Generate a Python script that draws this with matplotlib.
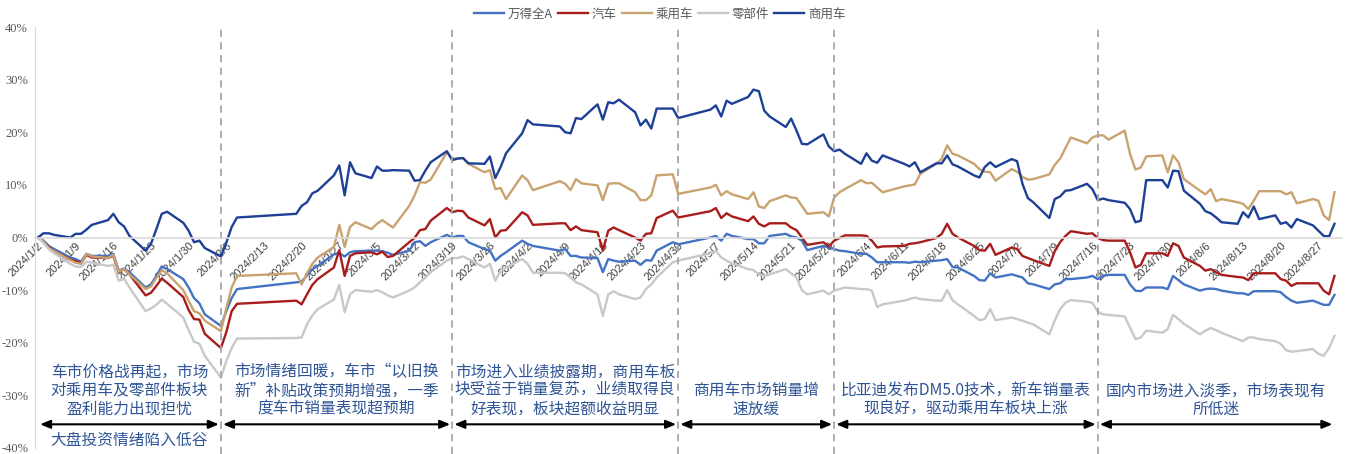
import matplotlib
matplotlib.use('Agg')
import matplotlib.pyplot as plt
import matplotlib.dates as mdates
from matplotlib.ticker import FuncFormatter
import pandas as pd

plt.rcParams['font.family'] = ['Noto Sans CJK SC', 'DejaVu Sans']

# trading days, 2024
days = (['1/2', '1/3', '1/4', '1/5', '1/8', '1/9', '1/10', '1/11', '1/12', '1/15', '1/16',
         '1/17', '1/18', '1/19', '1/22', '1/23', '1/24', '1/25', '1/26', '1/29', '1/30', '1/31']
        + ['2/1', '2/2', '2/5', '2/6', '2/7', '2/8', '2/19', '2/20', '2/21', '2/22', '2/23',
           '2/26', '2/27', '2/28', '2/29']
        + ['3/1', '3/4', '3/5', '3/6', '3/7', '3/8', '3/11', '3/12', '3/13', '3/14', '3/15',
           '3/18', '3/19', '3/20', '3/21', '3/22', '3/25', '3/26', '3/27', '3/28', '3/29']
        + ['4/1', '4/2', '4/3', '4/8', '4/9', '4/10', '4/11', '4/12', '4/15', '4/16', '4/17',
           '4/18', '4/19', '4/22', '4/23', '4/24', '4/25', '4/26', '4/29', '4/30']
        + ['5/6', '5/7', '5/8', '5/9', '5/10', '5/13', '5/14', '5/15', '5/16', '5/17', '5/20',
           '5/21', '5/22', '5/23', '5/24', '5/27', '5/28', '5/29', '5/30', '5/31']
        + ['6/3', '6/4', '6/5', '6/6', '6/7', '6/11', '6/12', '6/13', '6/14', '6/17', '6/18',
           '6/19', '6/20', '6/21', '6/24', '6/25', '6/26', '6/27', '6/28']
        + ['7/1', '7/2', '7/3', '7/4', '7/5', '7/8', '7/9', '7/10', '7/11', '7/12', '7/15',
           '7/16', '7/17', '7/18', '7/19', '7/22', '7/23', '7/24', '7/25', '7/26', '7/29',
           '7/30', '7/31']
        + ['8/1', '8/2', '8/5', '8/6', '8/7', '8/8', '8/9', '8/12', '8/13', '8/14', '8/15',
           '8/16', '8/19', '8/20', '8/21', '8/22', '8/23', '8/26', '8/27', '8/28', '8/29', '8/30'])

# cumulative return, %
wind_a = ([0, -0.6, -1.6, -2.2, -3.8, -4.1, -4.6, -3.1, -3.5, -3.5, -3.1, -6.3, -5.9, -6.6, -9.5, -8.9, -7.3, -5.5, -6.0, -7.9, -9.5, -11.5]
          + [-12.5, -14.6, -16.8, -14.0, -11.5, -9.8, -8.5, -8.4, -7.2, -6.0, -5.4, -3.2, -3.0, -3.6, -2.8]
          + [-2.6, -2.5, -2.5, -2.6, -2.9, -3.3, -2.5, -0.9, -0.7, -1.6, -0.9, 0.5, 0.0, 0.3, 0.3, -0.9, -2.2, -2.5, -4.4, -3.5, -2.8]
          + [-0.6, -1.2, -1.6, -2.5, -2.2, -3.5, -3.5, -3.8, -3.9, -6.6, -4.1, -4.4, -4.6, -4.4, -5.2, -4.3, -4.4, -2.5, -0.9, -1.3]
          + [0.0, 0.3, -0.6, 0.7, 0.3, -0.3, -0.3, -1.1, -1.1, 0.3, 0.7, 0.2, 0.0, -0.6, -2.4, -1.6, -1.9, -2.2, -2.5, -2.6]
          + [-3.1, -3.1, -3.8, -4.7, -4.7, -4.7, -4.8, -4.6, -4.7, -4.4, -4.3, -4.1, -5.6, -5.7, -7.3, -8.1, -8.2, -6.8, -7.6]
          + [-7.0, -7.3, -7.6, -8.7, -8.9, -9.8, -8.9, -8.7, -7.9, -7.9, -7.6, -7.3, -7.9, -7.3, -7.1, -7.1, -8.9, -10.1, -10.2, -9.5, -9.5, -9.8, -7.3]
          + [-8.1, -8.9, -10.1, -9.8, -9.7, -9.8, -10.1, -10.6, -10.6, -10.9, -10.2, -10.2, -10.2, -10.4, -11.3, -12.0, -12.4, -12.0, -12.4, -12.8, -12.8, -10.9])

auto = ([0, -0.8, -1.8, -2.6, -4.2, -4.5, -4.9, -3.3, -3.8, -3.9, -3.5, -6.6, -6.0, -7.0, -11.0, -10.5, -9.2, -7.8, -8.6, -11.3, -13.8, -15.5]
        + [-15.6, -18.3, -21.0, -18.0, -14.0, -12.6, -12.0, -12.7, -10.8, -9.0, -7.9, -5.7, -2.4, -7.3, -3.5]
        + [-3.0, -2.8, -3.2, -2.7, -3.7, -3.5, -0.9, -0.1, 1.4, 1.6, 3.2, 5.6, 4.8, 5.1, 5.0, 3.8, 2.3, 3.5, 0.0, 1.3, 1.4]
        + [4.8, 4.2, 2.4, 2.7, 2.7, 1.4, 2.1, 1.4, 1.0, -2.5, 1.3, 1.9, 1.4, 0.0, -0.6, 0.7, 0.8, 3.7, 5.1, 3.8]
        + [5.0, 5.6, 3.7, 4.6, 4.0, 3.1, 4.0, 2.6, 2.1, 2.7, 2.7, 1.9, 1.4, 0.0, -1.4, -0.9, -1.7, -0.6, -0.1, 0.4]
        + [0.4, 0.3, -0.6, -1.9, -1.7, -1.6, -1.2, -1.1, -0.9, -0.1, 0.7, 2.6, 0.7, 0.0, -1.6, -2.4, -2.5, -1.2, -3.3]
        + [-1.9, -2.2, -3.5, -3.9, -4.3, -5.4, -2.6, -0.9, 0.3, 1.2, 0.7, 0.8, -0.1, -0.5, -0.6, -0.6, -2.8, -5.7, -5.2, -3.0, -3.0, -3.5, -1.1]
        + [-1.6, -3.8, -5.4, -6.3, -6.0, -6.6, -7.1, -7.5, -7.6, -8.1, -6.8, -6.8, -6.8, -7.9, -8.2, -9.2, -8.7, -8.7, -8.7, -10.1, -10.8, -7.3])

passenger = ([0, -0.8, -2.0, -2.6, -4.3, -4.8, -5.0, -3.1, -3.6, -3.9, -3.3, -6.5, -6.0, -7.0, -9.8, -9.3, -7.7, -6.2, -6.8, -10.0, -12.0, -14.0]
             + [-14.4, -15.8, -17.8, -13.5, -9.5, -7.3, -6.8, -8.9, -6.8, -5.0, -3.8, -1.8, 2.4, -1.8, 2.0]
             + [2.9, 1.6, 2.6, 3.3, 2.6, 1.9, 6.0, 8.0, 10.5, 10.4, 11.0, 16.2, 15.0, 15.0, 15.1, 14.0, 12.4, 12.8, 9.2, 9.4, 7.3]
             + [11.8, 10.9, 9.0, 10.7, 10.2, 9.0, 11.1, 10.3, 9.9, 7.1, 10.2, 10.3, 10.3, 8.6, 7.1, 7.1, 8.0, 11.8, 12.0, 8.3]
             + [9.5, 10.0, 8.0, 8.8, 8.2, 7.3, 8.6, 5.9, 5.6, 6.9, 8.0, 7.6, 7.5, 6.0, 4.5, 4.8, 4.0, 7.6, 8.6, 9.2]
             + [10.9, 10.3, 10.4, 9.5, 8.6, 9.7, 9.9, 10.1, 12.1, 14.0, 15.0, 17.5, 15.9, 15.6, 14.0, 13.0, 12.5, 12.4, 10.8]
             + [13.0, 12.5, 11.5, 11.0, 11.1, 12.0, 13.8, 15.0, 17.0, 19.0, 17.9, 19.0, 19.4, 19.4, 18.6, 20.3, 15.9, 12.9, 13.3, 15.4, 15.6, 12.4, 15.6]
             + [14.3, 11.1, 8.9, 8.2, 9.2, 6.9, 7.3, 6.7, 6.4, 5.4, 7.0, 8.8, 8.8, 8.8, 8.2, 8.6, 6.5, 7.3, 7.0, 4.2, 3.3, 8.6])

parts = ([0, -1.0, -2.2, -3.0, -5.0, -5.5, -5.6, -4.6, -4.8, -5.4, -5.2, -8.2, -7.8, -9.5, -14.0, -13.5, -12.8, -11.8, -12.6, -15.2, -17.6, -19.8]
         + [-20.2, -22.5, -26.6, -23.5, -21.0, -19.2, -19.1, -19.0, -16.5, -14.8, -13.6, -11.8, -9.0, -14.2, -10.8]
         + [-10.0, -10.3, -10.0, -10.4, -11.0, -11.4, -10.1, -9.5, -8.5, -7.6, -6.6, -4.4, -3.9, -3.9, -3.6, -4.1, -5.7, -5.0, -8.2, -6.3, -5.7]
         + [-4.1, -5.0, -6.7, -6.7, -6.8, -7.6, -8.5, -8.9, -10.8, -14.9, -10.8, -10.2, -10.8, -11.7, -11.4, -9.8, -8.9, -7.6, -4.7, -4.4]
         + [-3.0, -2.5, -3.8, -4.4, -4.9, -6.0, -6.2, -7.0, -7.3, -7.0, -6.0, -6.8, -7.6, -10.0, -10.8, -10.1, -10.8, -10.1, -9.8, -9.5]
         + [-9.8, -9.8, -10.1, -13.2, -12.7, -12.0, -11.7, -11.4, -11.7, -12.0, -12.0, -10.0, -11.9, -12.7, -14.9, -15.7, -15.5, -13.6, -15.7]
         + [-15.2, -15.5, -15.8, -16.2, -16.5, -18.4, -15.8, -13.6, -12.4, -11.9, -12.2, -12.4, -14.1, -14.6, -14.7, -15.0, -17.1, -19.3, -19.0, -17.7, -18.1, -17.4, -14.7]
         + [-15.5, -16.4, -18.4, -17.7, -17.2, -17.6, -18.1, -19.3, -19.7, -19.0, -19.0, -19.3, -19.7, -20.2, -21.4, -21.7, -21.6, -21.2, -22.1, -22.5, -21.0, -18.7])

commercial = ([0, 0.8, 0.8, 0.5, 0.0, 0.7, 0.7, 1.5, 2.4, 3.3, 4.5, 2.9, 2.1, 0.3, -2.5, -1.2, 1.6, 4.5, 4.9, 2.8, 1.3, -0.9]
              + [-0.6, -2.0, -3.6, -1.0, 2.0, 3.8, 4.5, 6.0, 6.7, 8.4, 8.9, 11.8, 13.7, 8.0, 14.3]
              + [12.2, 11.3, 13.5, 12.7, 12.7, 12.8, 12.7, 10.8, 10.9, 12.7, 14.3, 16.4, 14.7, 15.0, 15.1, 14.1, 14.0, 15.4, 11.3, 13.4, 16.0]
              + [19.8, 22.3, 21.5, 21.1, 20.0, 19.8, 22.7, 22.5, 25.3, 22.4, 25.7, 25.5, 26.2, 23.8, 21.3, 22.4, 20.7, 24.5, 24.5, 22.7]
              + [24.3, 25.1, 23.0, 26.0, 25.4, 26.7, 28.1, 27.8, 24.1, 23.0, 21.0, 22.6, 20.3, 17.8, 17.7, 19.6, 17.3, 16.4, 16.7, 15.9]
              + [14.0, 16.0, 14.6, 14.2, 15.6, 14.0, 13.5, 14.3, 12.4, 14.1, 14.1, 15.6, 13.9, 13.5, 11.8, 11.4, 13.4, 14.3, 13.4]
              + [14.9, 14.5, 10.2, 7.5, 6.7, 3.7, 7.3, 7.8, 8.9, 9.0, 10.2, 9.2, 7.1, 7.4, 7.1, 6.6, 5.4, 2.9, 3.2, 10.9, 10.9, 9.5, 12.7]
              + [12.6, 8.9, 6.4, 5.0, 4.6, 3.8, 2.9, 2.6, 4.8, 3.8, 5.9, 3.5, 4.2, 2.6, 2.9, 1.9, 3.5, 2.3, 1.3, 0.3, 0.2, 2.6])

names = ['万得全A', '汽车', '乘用车', '零部件', '商用车']
colors = ['#4472C4', '#A81C1C', '#C8A36F', '#C8C8C8', '#1D3F96']

# phase boundaries and notes
phase_days = ['1/2', '2/5', '3/19', '4/30', '5/29', '7/17', '8/30']
phase_notes = ['车市价格战再起，市场\n对乘用车及零部件板块\n盈利能力出现担忧',
               '市场情绪回暖，车市“以旧换\n新”补贴政策预期增强，一季\n度车市销量表现超预期',
               '市场进入业绩披露期，商用车板\n块受益于销量复苏，业绩取得良\n好表现，板块超额收益明显',
               '商用车市场销量增\n速放缓',
               '比亚迪发布DM5.0技术，新车销量表\n现良好，驱动乘用车板块上涨',
               '国内市场进入淡季，市场表现有\n所低迷']
first_note = '大盘投资情绪陷入低谷'

dates = pd.to_datetime(['2024/' + d for d in days])
phase = pd.to_datetime(['2024/' + d for d in phase_days])

fig = plt.figure(figsize=(13.51, 4.54), dpi=100)
ax = fig.add_axes([35 / 1351, 6 / 454, 1307 / 1351, 421 / 454])

# axis setup first: moving the spine resets the ticks
for s in ['top', 'right']:
    ax.spines[s].set_visible(False)
ax.spines['left'].set_color('#D9D9D9')
ax.spines['bottom'].set_position(('data', 0))
ax.spines['bottom'].set_color('#D9D9D9')
ax.spines['bottom'].set_linewidth(1.2)

lines = []
for vals, name, c in zip([wind_a, auto, passenger, parts, commercial], names, colors):
    ln, = ax.plot(dates, vals, color=c, lw=1.7, label=name, solid_joinstyle='round')
    lines.append(ln)

x0 = mdates.date2num(pd.Timestamp('2024-01-02'))
ax.set_xlim(x0 - 0.56, x0 + 242.4)
ax.set_ylim(-40, 40)
ax.set_yticks(range(-40, 41, 10))
ax.yaxis.set_major_formatter(FuncFormatter(lambda v, p: f'{v:.0f}%'))

ticks = pd.date_range('2024-01-02', '2024-08-27', freq='7D')
ax.set_xticks(ticks)
ax.set_xticklabels([f'{t.year}/{t.month}/{t.day}' for t in ticks])
ax.tick_params(axis='both', length=0)
ax.tick_params(axis='x', pad=2)
ax.tick_params(axis='y', pad=5)
for lbl in ax.get_xticklabels():
    lbl.set_rotation(45)
    lbl.set_ha('right')
    lbl.set_rotation_mode('anchor')
    lbl.set_fontsize(8)
    lbl.set_color('#404040')
    lbl.set_fontfamily('Liberation Sans')
for lbl in ax.get_yticklabels():
    lbl.set_fontfamily('Liberation Serif')
    lbl.set_fontsize(9)
    lbl.set_color('#595959')

for d in phase[1:-1]:
    ax.axvline(d, ymin=-0.015, ymax=1, color='#A6A6A6', ls=(0, (4, 3)), lw=1.3, clip_on=False)

for i, note in enumerate(phase_notes):
    a, b = phase[i], phase[i + 1]
    ax.annotate('', xy=(b, -35.5), xytext=(a, -35.5),
                arrowprops=dict(arrowstyle='<|-|>,head_length=0.6,head_width=0.25',
                                color='black', lw=1.5, shrinkA=1.5, shrinkB=1.5))
    mid = a + (b - a) / 2
    ax.text(mid, -34.3, note, ha='center', va='bottom', fontsize=11.3,
            color='#2F5597', linespacing=1.15)

ax.text(phase[0] + (phase[1] - phase[0]) / 2, -38.6, first_note, ha='center',
        va='center', fontsize=11.3, color='#2F5597')

fig.legend(lines, names, loc='center', bbox_to_anchor=(0.4885, 0.969), ncol=5,
           frameon=False, fontsize=9, handlelength=2.4, handletextpad=0.3,
           columnspacing=0.4, labelcolor='#595959')

fig.savefig('out.png', dpi=100)
